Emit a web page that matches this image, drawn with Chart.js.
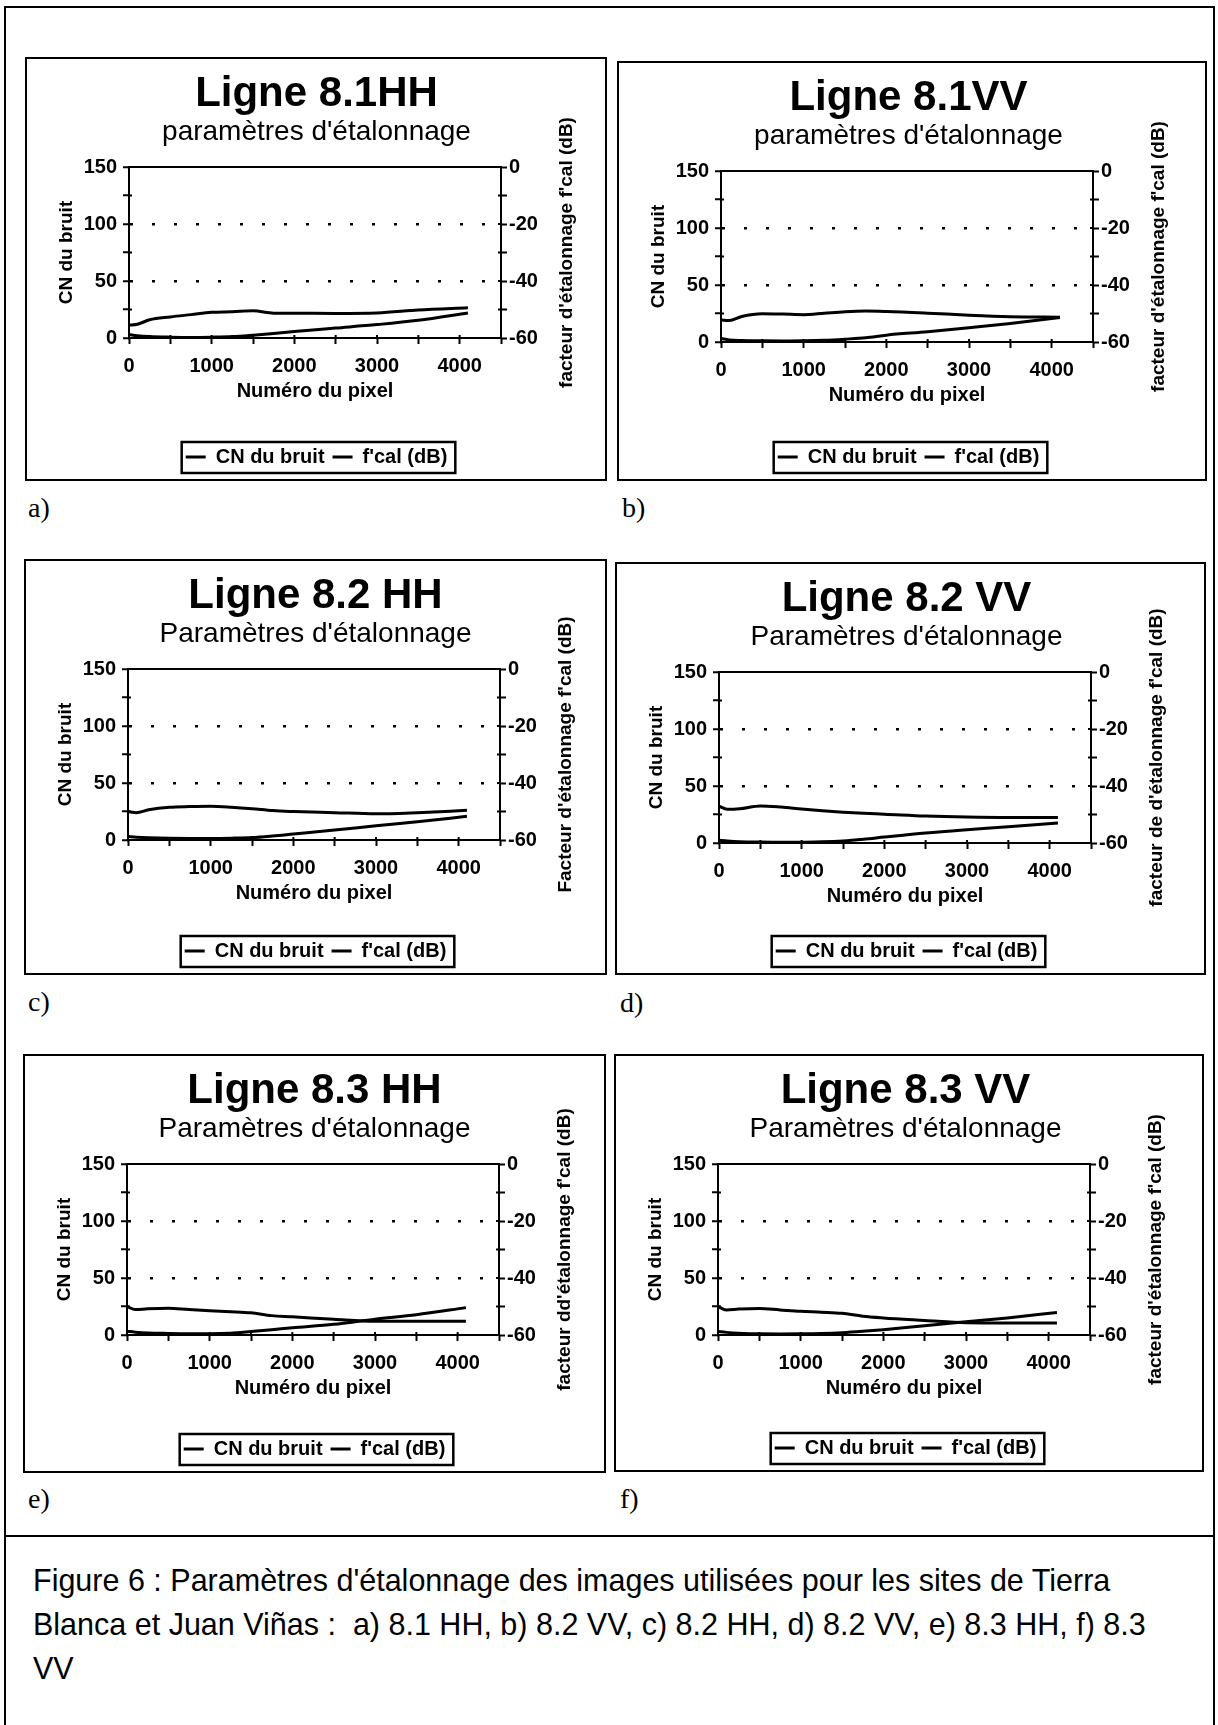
<!DOCTYPE html>
<html lang="fr">
<head>
<meta charset="utf-8">
<title>Figure 6 - Paramètres d'étalonnage</title>
<script src="https://cdn.jsdelivr.net/npm/chart.js@4.4.1/dist/chart.umd.min.js"></script>
<style>
  html, body { margin: 0; padding: 0; background: #fff; }
  #page { position: relative; width: 1218px; height: 1725px; overflow: hidden; font-family: 'Liberation Sans', Arial, sans-serif; }
  #frame { position: absolute; left: 4px; top: 6px; width: 1207px; height: 1760px; border: 2px solid #000; }
  #sep { position: absolute; left: 4px; top: 1535px; width: 1211px; border-top: 2px solid #000; }
  .tag { position: absolute; font-family: 'Liberation Serif', 'Times New Roman', serif; font-size: 28px; line-height: 32px; }
  #caption { position: absolute; left: 33px; top: 1558px; font-size: 30.5px; line-height: 44px; white-space: nowrap; }
  canvas { position: absolute; }
</style>
</head>
<body>
<div id="page">
  <div id="frame"></div>
  <div id="sep"></div>
  <div id="caption">Figure 6 : Paramètres d'étalonnage des images utilisées pour les sites de Tierra<br>Blanca et Juan Viñas :&nbsp; a) 8.1 HH, b) 8.2 VV, c) 8.2 HH, d) 8.2 VV, e) 8.3 HH, f) 8.3<br>VV</div>
</div>
<script>
// pixel positions along the line
const pixels = [0, 100, 250, 500, 750, 1000, 1250, 1500, 1750, 2000, 2500, 3000, 3500, 4100]

// noise DN (left axis) and f'cal in dB (right axis), one pair per line
const cn81HH = [11.3, 12.0, 16.0, 18.5, 20.5, 22.5, 23.0, 23.8, 21.8, 21.7, 21.6, 22.0, 24.5, 26.5]
const fcal81HH = [-58.8, -59.2, -59.5, -59.7, -59.8, -59.7, -59.5, -59.0, -58.4, -57.7, -56.5, -55.3, -53.8, -51.2]

const cn81VV = [19.4, 18.8, 22.4, 24.8, 24.5, 24.0, 25.3, 26.6, 27.2, 26.8, 25.3, 23.5, 22.2, 21.8]
const fcal81VV = [-58.8, -59.3, -59.5, -59.6, -59.65, -59.6, -59.4, -59.0, -58.5, -57.6, -56.4, -55.0, -53.5, -51.4]

const cn82HH = [25.0, 24.0, 26.5, 28.7, 29.3, 29.6, 28.8, 27.5, 25.8, 25.0, 24.0, 23.0, 24.0, 26.0]
const fcal82HH = [-58.8, -59.0, -59.2, -59.4, -59.44, -59.44, -59.36, -59.16, -58.6, -57.9, -56.5, -55.0, -53.6, -51.7]

const cn82VV = [32.4, 29.5, 30.0, 32.5, 31.5, 29.8, 28.3, 27.0, 26.0, 25.3, 23.7, 22.8, 22.4, 22.4]
const fcal82VV = [-59.04, -59.28, -59.52, -59.68, -59.76, -59.72, -59.6, -59.28, -58.68, -57.92, -56.48, -55.32, -54.28, -52.96]

const cn83HH = [25.0, 22.3, 23.0, 23.5, 22.3, 21.3, 20.5, 19.5, 17.0, 16.0, 13.8, 12.0, 12.0, 12.0]
const fcal83HH = [-58.68, -59.0, -59.28, -59.44, -59.52, -59.52, -59.36, -58.8, -58.16, -57.48, -56.24, -54.44, -52.88, -50.4]

const cn83VV = [25.0, 22.0, 22.7, 23.2, 22.0, 20.8, 20.0, 19.0, 16.5, 15.0, 12.8, 10.7, 10.5, 10.5]
const fcal83VV = [-58.8, -59.08, -59.36, -59.6, -59.64, -59.6, -59.48, -59.2, -58.72, -58.12, -56.72, -55.36, -54.0, -52.08]

// axis ticks
const xTicks = [0, 1000, 2000, 3000, 4000]
const cnTicks = [0, 50, 100, 150]
const dbTicks = [-60, -40, -20, 0]

const legendLabels = ['CN du bruit', "f'cal (dB)"]
const xTitle = 'Numéro du pixel'
const yTitle = 'CN du bruit'

const panels = [
  { tag: 'a)', title: 'Ligne 8.1HH', sub: "paramètres d'étalonnage", right: "facteur d'étalonnage f'cal (dB)", cn: cn81HH, fcal: fcal81HH, x: 25, y: 57, w: 582, h: 424, tx: 28, ty: 492 },
  { tag: 'b)', title: 'Ligne 8.1VV', sub: "paramètres d'étalonnage", right: "facteur d'étalonnage f'cal (dB)", cn: cn81VV, fcal: fcal81VV, x: 617, y: 61, w: 590, h: 420, tx: 622, ty: 492 },
  { tag: 'c)', title: 'Ligne 8.2 HH', sub: "Paramètres d'étalonnage", right: "Facteur d'étalonnage f'cal (dB)", cn: cn82HH, fcal: fcal82HH, x: 24, y: 559, w: 583, h: 416, tx: 28, ty: 986 },
  { tag: 'd)', title: 'Ligne 8.2 VV', sub: "Paramètres d'étalonnage", right: "facteur de d'étalonnage f'cal (dB)", cn: cn82VV, fcal: fcal82VV, x: 615, y: 562, w: 591, h: 413, tx: 620, ty: 987 },
  { tag: 'e)', title: 'Ligne 8.3 HH', sub: "Paramètres d'étalonnage", right: "facteur dd'étalonnage f'cal (dB)", cn: cn83HH, fcal: fcal83HH, x: 23, y: 1054, w: 583, h: 419, tx: 28, ty: 1483 },
  { tag: 'f)', title: 'Ligne 8.3 VV', sub: "Paramètres d'étalonnage", right: "facteur d'étalonnage f'cal (dB)", cn: cn83VV, fcal: fcal83VV, x: 614, y: 1054, w: 590, h: 418, tx: 620, ty: 1483 },
]

const FONT = "'Liberation Sans', Arial, sans-serif"
Chart.defaults.color = '#000'
Chart.defaults.font.family = FONT

// plot box inside each panel
const plotTop = 110
const plotH = 167
const plotW = 372
const padLeft = 26
const yWidth = 78
const y2Width = 81
const legendH = 42

const boldTick = { family: FONT, size: 20, weight: 'bold' }
const boldTitle = { family: FONT, size: 19, weight: 'bold' }
const legendFont = { family: FONT, size: 20, weight: 'bold' }

// white panel with a border, closed plot frame, right-hand title and legend box
const panelFrame = {
  id: 'panelFrame',
  beforeDraw(chart) {
    const { ctx, width, height } = chart
    ctx.save()
    ctx.fillStyle = '#fff'
    ctx.fillRect(0, 0, width, height)
    ctx.strokeStyle = '#000'
    ctx.lineWidth = 2
    ctx.strokeRect(1, 1, width - 2, height - 2)
    ctx.restore()
  },
  afterDraw(chart, args, opts) {
    const { ctx, chartArea: a, legend, scales } = chart
    ctx.save()
    ctx.strokeStyle = '#000'
    ctx.lineWidth = 2
    ctx.strokeRect(a.left, a.top, a.right - a.left, a.bottom - a.top)

    // tick marks cross the axes: add the short inner half
    ctx.beginPath()
    for (const t of scales.y.ticks) {
      const py = scales.y.getPixelForValue(t.value)
      ctx.moveTo(a.left, py)
      ctx.lineTo(a.left + 3, py)
    }
    for (const t of scales.y2.ticks) {
      const py = scales.y2.getPixelForValue(t.value)
      ctx.moveTo(a.right, py)
      ctx.lineTo(a.right - 3, py)
    }
    for (const t of scales.x.ticks) {
      const px = scales.x.getPixelForValue(t.value)
      ctx.moveTo(px, a.bottom)
      ctx.lineTo(px, a.bottom - 3)
    }
    ctx.stroke()

    // right axis title reads bottom to top like the left one
    ctx.translate(scales.y2.right - 4 - 11.4, (a.top + a.bottom) / 2)
    ctx.rotate(-Math.PI / 2)
    ctx.font = `bold 19px ${FONT}`
    ctx.fillStyle = '#000'
    ctx.textAlign = 'center'
    ctx.textBaseline = 'middle'
    ctx.fillText(opts.rightTitle, 0, 0)
    ctx.setTransform(1, 0, 0, 1, 0, 0)

    const boxes = legend.legendHitBoxes
    const l = Math.min(...boxes.map(b => b.left)) - 4
    const r = Math.max(...boxes.map(b => b.left + b.width)) + 8
    const t = boxes[0].top - 5
    const b = boxes[0].top + boxes[0].height + 6
    ctx.lineWidth = 2.5
    ctx.strokeRect(l, t, r - l, b - t)
    ctx.restore()
  },
}

const page = document.getElementById('page')

for (const p of panels) {
  const canvas = document.createElement('canvas')
  canvas.width = p.w
  canvas.height = p.h
  canvas.style.left = p.x + 'px'
  canvas.style.top = p.y + 'px'
  page.appendChild(canvas)

  const tag = document.createElement('div')
  tag.className = 'tag'
  tag.textContent = p.tag
  tag.style.left = p.tx + 'px'
  tag.style.top = p.ty + 'px'
  page.appendChild(tag)

  const padRight = p.w - padLeft - yWidth - plotW - y2Width
  const xHeight = p.h - plotTop - plotH - legendH - 4
  const xTitlePad = xHeight - 53 - 12

  new Chart(canvas, {
    type: 'line',
    data: {
      datasets: [
        {
          label: legendLabels[0],
          data: pixels.map((x, i) => ({ x, y: p.cn[i] })),
          yAxisID: 'y',
          borderColor: '#000',
          backgroundColor: '#000',
          borderWidth: 3,
        },
        {
          label: legendLabels[1],
          data: pixels.map((x, i) => ({ x, y: p.fcal[i] })),
          yAxisID: 'y2',
          borderColor: '#000',
          backgroundColor: '#000',
          borderWidth: 3,
        },
      ],
    },
    plugins: [panelFrame],
    options: {
      responsive: false,
      animation: false,
      events: [],
      layout: { padding: { left: padLeft, right: padRight, top: 0, bottom: 4 } },
      elements: {
        line: { tension: 0.3, cubicInterpolationMode: 'monotone' },
        point: { radius: 0 },
      },
      plugins: {
        panelFrame: { rightTitle: p.right },
        title: {
          display: true,
          text: p.title,
          color: '#000',
          font: { family: FONT, size: 42, weight: 'bold', lineHeight: 1 },
          padding: { top: 16, bottom: 0 },
        },
        subtitle: {
          display: true,
          text: p.sub,
          color: '#000',
          font: { family: FONT, size: 28, lineHeight: 1.2 },
          padding: { top: 0, bottom: 18.4 },
        },
        legend: {
          position: 'bottom',
          labels: {
            usePointStyle: true,
            pointStyle: 'line',
            pointStyleWidth: 20,
            color: '#000',
            font: legendFont,
            padding: 8,
          },
        },
        tooltip: { enabled: false },
      },
      scales: {
        x: {
          type: 'linear',
          min: 0,
          max: 4500,
          ticks: {
            stepSize: 500,
            autoSkip: false,
            maxRotation: 0,
            padding: 10,
            font: boldTick,
            callback: v => (xTicks.includes(v) ? v : ''),
          },
          grid: { drawOnChartArea: false, tickLength: 6, tickColor: '#000', tickWidth: 2 },
          border: { color: '#000', width: 2 },
          title: { display: true, text: xTitle, font: { family: FONT, size: 20, weight: 'bold' }, padding: { top: 0, bottom: xTitlePad } },
          afterFit: s => { s.height = xHeight },
        },
        y: {
          position: 'left',
          min: 0,
          max: 150,
          ticks: {
            stepSize: 25,
            padding: 6,
            font: boldTick,
            callback: v => (cnTicks.includes(v) ? v : ''),
          },
          grid: {
            color: c => (c.tick && c.tick.value > 0 && c.tick.value < 150 && c.tick.value % 50 === 0 ? '#000' : 'rgba(0,0,0,0)'),
            lineWidth: 2.5,
            tickColor: '#000',
            tickLength: 6,
            tickWidth: 2,
          },
          border: { color: '#000', width: 2, dash: [3, 19] },
          title: { display: true, text: yTitle, font: boldTitle, padding: { top: 4, bottom: 0 } },
          afterFit: s => { s.width = yWidth },
        },
        y2: {
          position: 'right',
          min: -60,
          max: 0,
          ticks: {
            stepSize: 10,
            padding: 2,
            font: boldTick,
            callback: v => (dbTicks.includes(v) ? v : ''),
          },
          grid: { drawOnChartArea: false, tickColor: '#000', tickLength: 6, tickWidth: 2 },
          border: { color: '#000', width: 2 },
          afterFit: s => { s.width = y2Width },
        },
      },
    },
  })
}
</script>
</body>
</html>
